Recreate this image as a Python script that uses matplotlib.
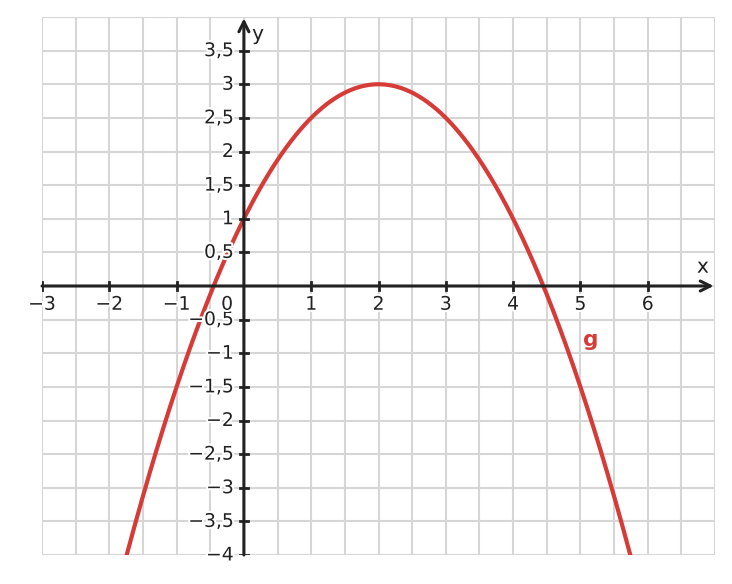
import numpy as np
import matplotlib.pyplot as plt
import matplotlib.patheffects as pe

# parabola g(x) = a*(x - xv)^2 + yv
a = -0.5
vertex_x = 2
vertex_y = 3

x_ticks = [-3, -2, -1, 1, 2, 3, 4, 5, 6]
y_ticks = [-4, -3.5, -3, -2.5, -2, -1.5, -1, -0.5, 0.5, 1, 1.5, 2, 2.5, 3, 3.5]

red = "#d63c37"
dark = "#222222"

fig = plt.figure(figsize=(7.32, 5.84), dpi=100)
ax = fig.add_axes([42 / 732, 29 / 584, 673 / 732, 538 / 584])
ax.set_xlim(-3, 7)
ax.set_ylim(-4, 4)
ax.axis("off")

# grid every 0.5
for gx in np.arange(-3, 7.01, 0.5):
    ax.plot([gx, gx], [-4, 4], color="#d6d6d6", lw=1.5, zorder=0)
for gy in np.arange(-4, 4.01, 0.5):
    ax.plot([-3, 7], [gy, gy], color="#d6d6d6", lw=1.5, zorder=0)

# curve
x = np.linspace(-3, 7, 600)
y = a * (x - vertex_x) ** 2 + vertex_y
ax.plot(x, y, color=red, lw=3, zorder=3)

# axes with arrows
ax.annotate("", xy=(6.98, 0), xytext=(-3, 0),
            arrowprops=dict(arrowstyle="->", color=dark, lw=2.2,
                            mutation_scale=18, shrinkA=0, shrinkB=0), zorder=4)
ax.annotate("", xy=(0, 3.98), xytext=(0, -4),
            arrowprops=dict(arrowstyle="->", color=dark, lw=2.2,
                            mutation_scale=18, shrinkA=0, shrinkB=0), zorder=4)

def fmt(v):
    return f"{v:g}".replace(".", ",").replace("-", "\u2212")

halo = [pe.withStroke(linewidth=3, foreground="white")]
fs = 13.5
tk = 0.06
for t in x_ticks:
    ax.plot([t, t], [-tk, tk], color=dark, lw=2, zorder=4)
    ax.text(t, -0.13, fmt(t), ha="center", va="top", fontsize=fs,
            color=dark, path_effects=halo, zorder=5)
for t in y_ticks:
    ax.plot([-tk, tk], [t, t], color=dark, lw=2, zorder=4)
    ax.text(-0.15, t, fmt(t), ha="right", va="center", fontsize=fs,
            color=dark, path_effects=halo, zorder=5)
ax.text(-0.25, -0.13, "0", ha="center", va="top", fontsize=fs,
        color=dark, path_effects=halo, zorder=5)

ax.text(6.82, 0.28, "x", ha="center", va="center", fontsize=14.5, color=dark,
        path_effects=halo)
ax.text(0.21, 3.74, "y", ha="center", va="center", fontsize=14.5, color=dark,
        path_effects=halo)
ax.text(5.15, -0.8, "g", ha="center", va="center", fontsize=15.5,
        fontweight="bold", color=red)

fig.savefig("out.png", dpi=100)
